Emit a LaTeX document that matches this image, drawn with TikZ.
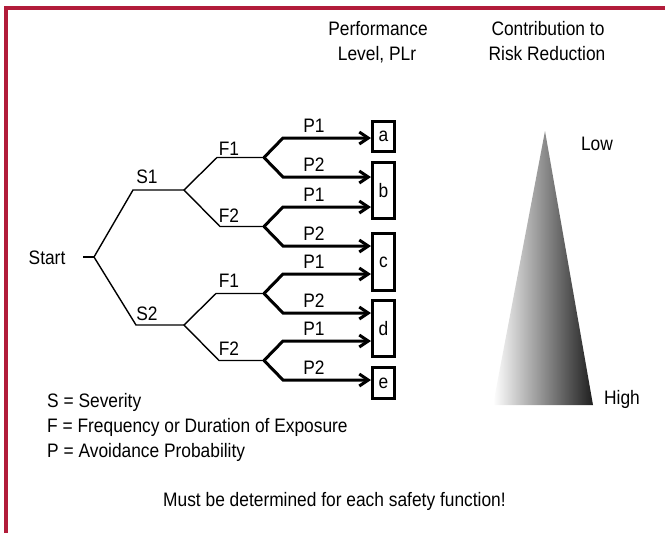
\documentclass[tikz,border=0pt]{standalone}
\usepackage{fontspec}
\setmainfont{Liberation Sans}[FakeStretch=0.89]
\usetikzlibrary{arrows.meta}
\definecolor{framered}{RGB}{178,28,58}
\begin{document}
\begin{tikzpicture}[x=1pt,y=-1pt,
  txt/.style={inner sep=0pt, font=\fontsize{19.5}{23}\selectfont},
  thinline/.style={line width=1.4pt, black},
  parrow/.style={line width=3pt, line join=miter, -{Straight Barb[length=9pt,width=12pt]}},
  lvlbox/.style={draw, line width=2.6pt, inner sep=0pt, minimum width=22.4pt, txt}
]
\useasboundingbox (0,0) rectangle (665,533);
% frame
\draw[framered, line width=4pt] (6,533) -- (6,7.5) -- (665,7.5);

% headers
\node[txt, anchor=base] (h1a) at (378,35.5) {Performance};
\node[txt, anchor=base] (h1b) at (377,60) {Level, PLr};
\node[txt, anchor=base] (h2a) at (548,35.5) {Contribution to};
\node[txt, anchor=base] (h2b) at (547,60) {Risk Reduction};

% tree coordinates
\coordinate (st0) at (83,257);
\coordinate (root) at (94,257);
\coordinate (s1c) at (133,190); \coordinate (s1) at (184,190);
\coordinate (s2c) at (136,325); \coordinate (s2) at (184,325);
\coordinate (f11c) at (217,157.5); \coordinate (f11) at (264,157.5);
\coordinate (f12c) at (220,226.5); \coordinate (f12) at (264,226.5);
\coordinate (f21c) at (216,293.5); \coordinate (f21) at (264,293.5);
\coordinate (f22c) at (219,360.5); \coordinate (f22) at (264,360.5);

\node[txt, anchor=base] (start) at (47,264) {Start};
\draw[thinline] (st0) -- (root);
\draw[thinline] (s1) -- (s1c) -- (root) -- (s2c) -- (s2);
\draw[thinline] (f11) -- (f11c) -- (s1) -- (f12c) -- (f12);
\draw[thinline] (f21) -- (f21c) -- (s2) -- (f22c) -- (f22);

\node[txt, anchor=base] (lS1) at (147,183) {S1};
\node[txt, anchor=base] (lS2) at (147,320) {S2};
\node[txt, anchor=base] (lF11) at (229,155.5) {F1};
\node[txt, anchor=base] (lF12) at (229,222) {F2};
\node[txt, anchor=base] (lF21) at (229,287) {F1};
\node[txt, anchor=base] (lF22) at (229,355) {F2};

% level boxes
\node[lvlbox, minimum height=30.4pt] (a) at (383.5,136.5) {a};
\node[lvlbox, minimum height=56.4pt] (b) at (383.5,190.5) {b};
\node[lvlbox, minimum height=57.4pt] (c) at (383.5,262) {c};
\node[lvlbox, minimum height=56.4pt] (d) at (383.5,328.5) {d};
\node[lvlbox, minimum height=31.4pt] (e) at (383.5,383) {e};

% P branches
\coordinate (p1) at (283,138);
\coordinate (p2) at (283,177);
\coordinate (p3) at (283,207);
\coordinate (p4) at (283,246);
\coordinate (p5) at (283,274);
\coordinate (p6) at (283,313);
\coordinate (p7) at (283,341);
\coordinate (p8) at (283,380);

\draw[parrow] (f11) -- (p1) -- (p1 -| a.west);
\draw[parrow] (f11) -- (p2) -- (p2 -| b.west);
\draw[parrow] (f12) -- (p3) -- (p3 -| b.west);
\draw[parrow] (f12) -- (p4) -- (p4 -| c.west);
\draw[parrow] (f21) -- (p5) -- (p5 -| c.west);
\draw[parrow] (f21) -- (p6) -- (p6 -| d.west);
\draw[parrow] (f22) -- (p7) -- (p7 -| d.west);
\draw[parrow] (f22) -- (p8) -- (p8 -| e.west);

\node[txt, anchor=base] (lp1) at (314,132.5) {P1};
\node[txt, anchor=base] (lp2) at (314,171.5) {P2};
\node[txt, anchor=base] (lp3) at (314,201.5) {P1};
\node[txt, anchor=base] (lp4) at (314,240.5) {P2};
\node[txt, anchor=base] (lp5) at (314,268.5) {P1};
\node[txt, anchor=base] (lp6) at (314,307.5) {P2};
\node[txt, anchor=base] (lp7) at (314,335.5) {P1};
\node[txt, anchor=base] (lp8) at (314,374.5) {P2};

% triangle
\shade[left color=white, right color=black!88] (545,131) -- (593,405) -- (493,405) -- cycle;
\node[txt, anchor=base] (low) at (597,150) {Low};
\node[txt, anchor=base] (high) at (622,404) {High};

% legend
\node[txt, anchor=base west] (lg1) at (47,407) {S = Severity};
\node[txt, anchor=base west] (lg2) at (47,432) {F = Frequency or Duration of Exposure};
\node[txt, anchor=base west] (lg3) at (47,457) {P = Avoidance Probability};

\node[txt, anchor=base west] (must) at (163,506.5) {Must be determined for each safety function!};
\end{tikzpicture}
\end{document}
